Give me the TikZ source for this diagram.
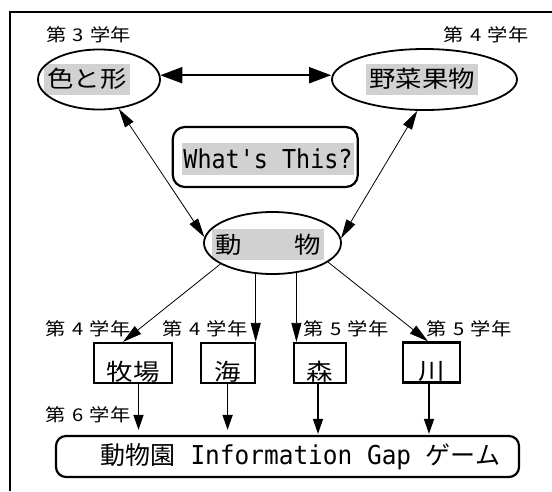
\documentclass[tikz,border=0pt]{standalone}
\usepackage{fontspec}
\usetikzlibrary{arrows.meta,shapes.geometric,calc}
\newfontfamily\jpfont{Noto Sans CJK JP}
\newfontfamily\jpsfont[FakeStretch=1.15]{Noto Sans CJK JP}
\newfontfamily\monofont[FakeStretch=0.9]{DejaVu Sans Mono}
\newfontfamily\monowide[FakeStretch=0.94]{DejaVu Sans Mono}
\definecolor{hlgray}{gray}{0.82}
\newcommand{\gradelab}[1]{第\hspace{6.5pt}#1\hspace{6.5pt}学年}
\tikzset{
  lab/.style={inner sep=0pt, font=\jpsfont\fontsize{17.6}{17.6}\selectfont},
  ell/.style={draw, line width=1.8pt, ellipse, inner sep=0pt},
  hltext/.style={fill=hlgray, inner xsep=3pt, inner ysep=0pt, text height=24pt, text depth=7pt,
                 font=\jpsfont\fontsize{23}{23}\selectfont},
  boxn/.style={draw, line width=2.2pt, rectangle, inner xsep=0pt, inner ysep=0pt,
               minimum height=40pt, text height=37pt, text depth=3pt,
               font=\jpsfont\fontsize{23}{23}\selectfont},
  rbox/.style={draw, line width=2.2pt, rounded corners=12pt, inner sep=0pt},
  bigarrow/.style={line width=2pt, {Triangle[length=22pt,width=16pt]}-{Triangle[length=22pt,width=16pt]}},
  thinboth/.style={line width=0.8pt, {Triangle[length=19pt,width=10pt]}-{Triangle[length=19pt,width=10pt]}},
  thinto/.style={line width=0.8pt, -{Triangle[length=19pt,width=10pt]}},
  midto/.style={line width=1.5pt, -{Triangle[length=15pt,width=10pt]}}
}
\begin{document}
\begin{tikzpicture}[x=1pt,y=-1pt]
\useasboundingbox (0,0) rectangle (552,491);
% frame
\draw[line width=1.2pt] (552,12) -- (10,12) -- (10,491);

% grade labels
\node[lab] (l1) at (88.5,35) {\gradelab{3}};
\node[lab] (l2) at (486,35) {\gradelab{4}};
\node[lab] (l3) at (88,329) {\gradelab{4}};
\node[lab] (l4) at (205,329) {\gradelab{4}};
\node[lab] (l5) at (346,329) {\gradelab{5}};
\node[lab] (l6) at (469,329) {\gradelab{5}};
\node[lab] (l7) at (88,415) {\gradelab{6}};

% ellipse texts
\node[hltext] (T1) at (87,79) {色と形};
\node[hltext] (T2) at (422,79) {野菜果物};
\node[hltext] (T3) at (268,244.5) {動　　物};

% ellipses
\node[ell, minimum width=122pt, minimum height=60pt] (E1) at (99,79.5) {};
\node[ell, minimum width=185pt, minimum height=61pt] (E2) at (424.5,79.5) {};
\node[ell, minimum width=137pt, minimum height=62pt] (E3) at (272.5,243) {};

% What's This box
\node[rbox, minimum width=185pt, minimum height=60pt] (WB) at (265.3,157) {};
\node[fill=hlgray, inner xsep=1pt, inner ysep=0pt, text height=25.5pt, text depth=6.5pt,
      font=\monofont\fontsize{26}{26}\selectfont] (WT) at (268,159) {What's This?};

% theme boxes
\node[boxn, minimum width=78pt] (mb) at (133,363) {牧場};
\node[boxn, minimum width=54pt] (hai) at (227.6,363) {海};
\node[boxn, minimum width=52pt] (mori) at (320,363) {森};
\node[boxn, minimum width=57pt] (kawa) at (431.5,362.5) {川};

% bottom box
\node[rbox, rounded corners=10pt, minimum width=463pt, minimum height=41pt] (bot) at (287.5,456.5)
  {\hspace*{26pt}{\jpfont\fontsize{25}{25}\selectfont 動物園}{\monowide\fontsize{26}{26}\selectfont\ Information Gap }{\jpfont\fontsize{25}{25}\selectfont ゲーム}};

% connectors
\draw[bigarrow] (E1.4) -- (E1.4 -| E2.west);
\draw[thinboth] (E1.-56) -- (E3.175);
\draw[thinboth] (E2.-103) -- (E3.4);
\draw[thinto] (E3.-158) -- ([xshift=-10pt]mb.north);
\draw[thinto] ($(E3.south -| hai.north east)+(0,-2)$) -- (hai.north east);
\draw[thinto] ($(E3.south -| mori.north west)+(3.5,-2)$) -- ([xshift=3.5pt]mori.north west);
\draw[thinto] (E3.-19) -- ([xshift=-3.5pt]kawa.north);

\draw[midto, shorten >=5pt] ([xshift=5.5pt]mb.south) -- ([xshift=5.5pt]mb.south |- bot.north);
\draw[midto, shorten >=5pt] (hai.south) -- (hai.south |- bot.north);
\draw[midto, shorten >=1pt] ([xshift=-2pt]mori.south) -- ([xshift=-2pt]mori.south |- bot.north);
\draw[midto, shorten >=1pt] ([xshift=-2.5pt]kawa.south) -- ([xshift=-2.5pt]kawa.south |- bot.north);
\end{tikzpicture}
\end{document}
